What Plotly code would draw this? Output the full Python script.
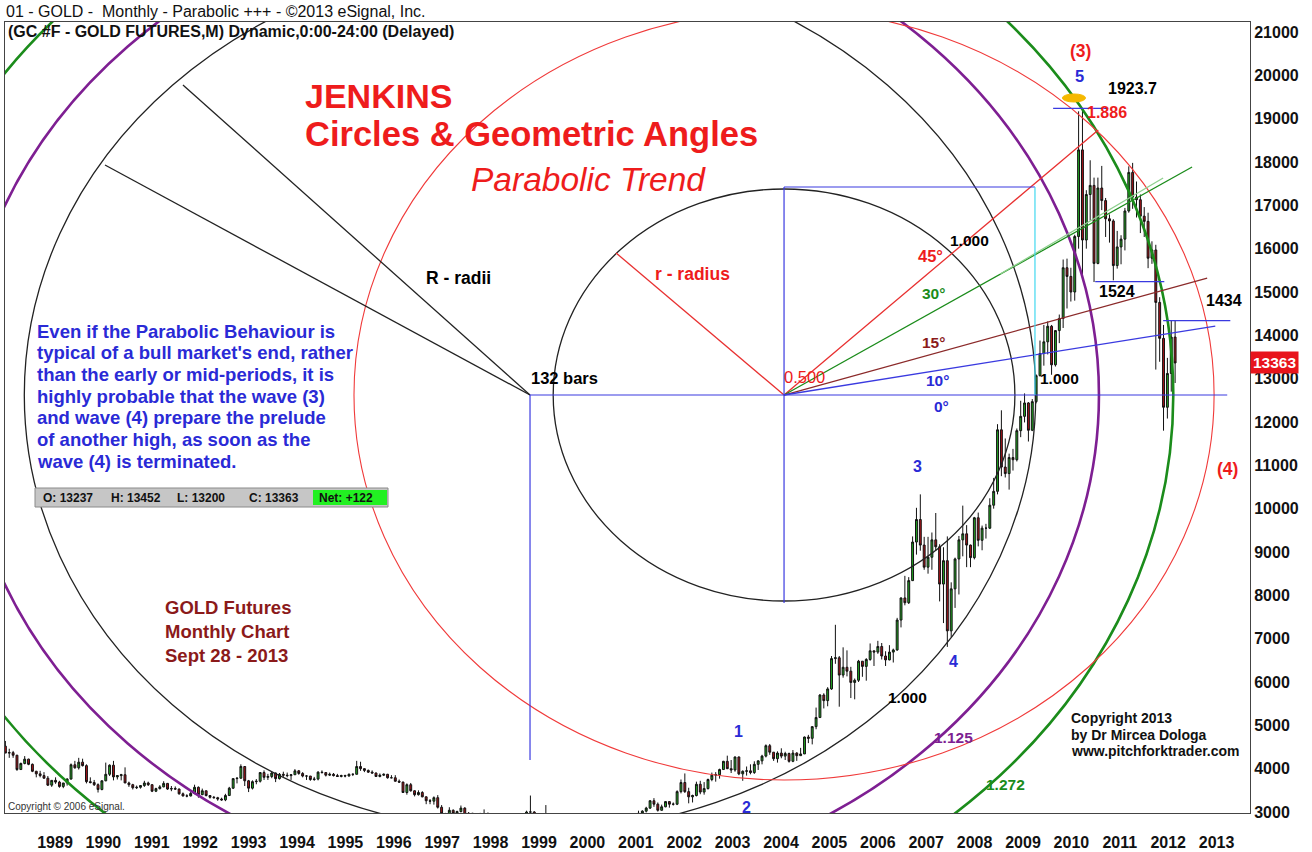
import numpy as np
import plotly.graph_objects as go

# ---------------------------------------------------------------- data
# Monthly gold futures bars, June 1988 .. September 2013
# (USD per ounce; the eSignal chart quotes them in tenths of a dollar).
FIRST_BAR = 5  # month index of the first bar, counting months from January 1988

OPEN = [
    452, 436, 437, 431, 398, 412, 422,                                  # 1988 Jun-Dec
    410, 394, 388, 384, 378, 362, 373, 369, 359, 367, 376, 409,         # 1989
    402, 415, 407, 370, 368, 363, 352, 372, 387, 408, 381, 384,         # 1990
    386, 367, 363, 356, 357, 361, 367, 363, 348, 354, 358, 366,         # 1991
    353, 354, 353, 342, 337, 337, 343, 357, 340, 349, 338, 334,         # 1992
    333, 330, 328, 338, 355, 377, 378, 405, 372, 355, 370, 371,         # 1993
    391, 380, 382, 390, 377, 387, 385, 384, 386, 395, 389, 383,         # 1994
    383, 375, 376, 392, 391, 385, 387, 384, 382, 384, 383, 387,         # 1995
    387, 405, 400, 396, 392, 390, 382, 385, 387, 379, 379, 371,         # 1996
    369, 345, 363, 349, 340, 345, 335, 326, 325, 333, 311, 296,         # 1997
    290, 304, 297, 301, 309, 293, 297, 289, 273, 294, 292, 294,         # 1998
    289, 286, 288, 280, 286, 268, 262, 256, 255, 300, 300, 293,         # 1999
    288, 283, 294, 279, 275, 273, 289, 277, 277, 273, 265, 270,         # 2000
    273, 266, 267, 258, 264, 267, 271, 266, 274, 293, 279, 275,         # 2001
    279, 282, 297, 302, 309, 326, 318, 304, 312, 324, 318, 318,         # 2002
    347, 368, 347, 335, 338, 364, 346, 354, 375, 385, 386, 398,         # 2003
    417, 400, 397, 427, 388, 394, 395, 391, 410, 418, 429, 453,         # 2004
    438, 423, 436, 429, 435, 417, 436, 430, 434, 473, 470, 497,         # 2005
    518, 570, 557, 584, 654, 656, 616, 634, 625, 599, 604, 648,         # 2006
    636, 652, 672, 669, 682, 660, 651, 669, 674, 743, 794, 783,         # 2007
    834, 923, 975, 916, 865, 888, 928, 912, 826, 880, 718, 815,         # 2008
    884, 928, 942, 916, 887, 979, 927, 955, 955, 1008, 1040, 1182,      # 2009
    1096, 1081, 1118, 1113, 1180, 1213, 1244, 1181, 1247, 1307, 1358, 1385,  # 2010
    1421, 1332, 1411, 1439, 1556, 1536, 1500, 1628, 1828, 1620, 1725, 1746,  # 2011
    1566, 1740, 1711, 1669, 1664, 1561, 1604, 1622, 1687, 1776, 1719, 1713,  # 2012
    1675, 1663, 1578, 1597, 1476, 1393, 1234, 1312, 1396,                    # 2013 Jan-Sep
]
HIGH = [
    464, 446, 441, 432, 414, 429, 423,
    412, 395, 395, 392, 383, 373, 380, 372, 367, 378, 412, 418,
    425, 423, 410, 380, 374, 366, 373, 414, 410, 418, 385, 388,
    403, 370, 365, 361, 362, 372, 370, 364, 356, 362, 371, 367,
    360, 359, 354, 345, 341, 346, 363, 359, 354, 349, 339, 337,
    335, 333, 342, 358, 378, 380, 410, 406, 374, 373, 376, 392,
    396, 388, 393, 391, 390, 393, 391, 387, 399, 397, 392, 385,
    383, 381, 394, 396, 392, 391, 390, 388, 386, 386, 389, 389,
    418, 416, 401, 398, 396, 391, 389, 389, 388, 385, 385, 375,
    370, 366, 367, 350, 350, 348, 336, 330, 336, 339, 316, 298,
    311, 306, 303, 315, 311, 300, 298, 292, 298, 306, 299, 297,
    293, 291, 289, 294, 290, 268, 264, 259, 303, 338, 302, 293,
    293, 316, 296, 290, 280, 294, 290, 280, 278, 274, 270, 275,
    274, 269, 269, 265, 294, 275, 271, 279, 294, 294, 280, 281,
    284, 303, 304, 312, 327, 332, 322, 317, 325, 325, 322, 350,
    375, 389, 356, 340, 370, 372, 369, 377, 391, 392, 400, 418,
    430, 420, 428, 428, 396, 405, 410, 417, 419, 432, 456, 457,
    438, 440, 447, 439, 437, 443, 438, 448, 474, 478, 498, 541,
    572, 574, 588, 660, 732, 660, 680, 673, 635, 608, 651, 648,
    655, 689, 672, 695, 690, 671, 685, 677, 748, 795, 845, 842,
    936, 1002, 1033, 935, 935, 945, 990, 918, 911, 936, 830, 887,
    937, 1007, 962, 917, 981, 991, 961, 965, 1024, 1071, 1195, 1227,
    1162, 1127, 1138, 1185, 1249, 1266, 1246, 1253, 1310, 1388, 1424, 1432,
    1424, 1412, 1448, 1575, 1577, 1556, 1632, 1917, 1923.7, 1735, 1804, 1764,
    1764, 1791, 1717, 1679, 1668, 1641, 1631, 1694, 1790, 1798, 1755, 1725,
    1696, 1683, 1617, 1609, 1488, 1424, 1348, 1434, 1434,
]
LOW = [
    436, 425, 425, 395, 398, 410, 408,
    392, 380, 380, 377, 360, 358, 365, 356, 355, 361, 375, 400,
    398, 405, 366, 366, 360, 345, 350, 371, 383, 373, 375, 373,
    367, 358, 352, 353, 354, 358, 360, 346, 346, 352, 357, 351,
    348, 351, 340, 336, 334, 336, 341, 333, 339, 336, 331, 331,
    326, 326, 325, 338, 353, 366, 377, 360, 346, 352, 364, 368,
    374, 374, 378, 369, 375, 381, 380, 374, 386, 386, 380, 374,
    372, 372, 373, 389, 382, 383, 382, 381, 380, 380, 382, 383,
    387, 395, 392, 390, 389, 381, 380, 383, 377, 378, 370, 367,
    344, 340, 347, 336, 338, 334, 318, 318, 317, 308, 290, 283,
    277, 291, 292, 299, 290, 287, 287, 271, 272, 290, 290, 284,
    283, 282, 278, 279, 267, 257, 252, 252, 253, 290, 287, 278,
    281, 282, 276, 273, 268, 272, 275, 270, 268, 264, 263, 267,
    263, 255, 257, 254, 263, 265, 263, 265, 271, 276, 271, 272,
    276, 281, 289, 299, 307, 312, 301, 303, 311, 310, 315, 316,
    343, 344, 320, 322, 336, 341, 340, 352, 371, 370, 377, 398,
    399, 390, 393, 385, 372, 384, 387, 388, 397, 410, 426, 432,
    418, 414, 424, 420, 414, 415, 418, 430, 434, 459, 456, 491,
    518, 539, 544, 582, 642, 543, 610, 613, 563, 560, 600, 612,
    603, 649, 637, 665, 652, 637, 650, 645, 672, 726, 777, 780,
    833, 894, 903, 859, 850, 859, 903, 786, 736, 681, 704, 771,
    802, 890, 865, 865, 883, 913, 904, 931, 953, 1000, 1033, 1075,
    1072, 1044, 1088, 1109, 1165, 1199, 1155, 1179, 1243, 1305, 1330, 1356,
    1309, 1328, 1382, 1417, 1462, 1478, 1480, 1600, 1532, 1600, 1665, 1523,
    1564, 1689, 1627, 1614, 1527, 1554, 1564, 1596, 1683, 1692, 1672, 1636,
    1627, 1555, 1565, 1321, 1339, 1180, 1208, 1270, 1290,
]
CLOSE = [
    436, 437, 431, 398, 412, 422, 410,
    394, 388, 384, 378, 362, 373, 369, 359, 367, 376, 409, 402,
    415, 407, 370, 368, 363, 352, 372, 387, 408, 381, 384, 386,
    367, 363, 356, 357, 361, 367, 363, 348, 354, 358, 366, 353,
    354, 353, 342, 337, 337, 343, 357, 340, 349, 338, 334, 333,
    330, 328, 338, 355, 377, 378, 405, 372, 355, 370, 371, 391,
    380, 382, 390, 377, 387, 385, 384, 386, 395, 389, 383, 383,
    375, 376, 392, 391, 385, 387, 384, 382, 384, 383, 387, 387,
    405, 400, 396, 392, 390, 382, 385, 387, 379, 379, 371, 369,
    345, 363, 349, 340, 345, 335, 326, 325, 333, 311, 296, 290,
    304, 297, 301, 309, 293, 297, 289, 273, 294, 292, 294, 289,
    286, 288, 280, 286, 268, 262, 256, 255, 300, 300, 293, 288,
    283, 294, 279, 275, 273, 289, 277, 277, 273, 265, 270, 273,
    266, 267, 258, 264, 267, 271, 266, 274, 293, 279, 275, 279,
    282, 297, 302, 309, 326, 318, 304, 312, 324, 318, 318, 347,
    368, 347, 335, 338, 364, 346, 354, 375, 385, 386, 398, 417,
    400, 397, 427, 388, 394, 395, 391, 410, 418, 429, 453, 438,
    423, 436, 429, 435, 417, 436, 430, 434, 473, 470, 497, 518,
    570, 557, 584, 654, 656, 616, 634, 625, 599, 604, 648, 636,
    652, 672, 669, 682, 660, 651, 669, 674, 743, 794, 783, 834,
    923, 975, 916, 865, 888, 928, 912, 826, 880, 718, 815, 884,
    928, 942, 916, 887, 979, 927, 955, 955, 1008, 1040, 1182, 1096,
    1081, 1118, 1113, 1180, 1213, 1244, 1181, 1247, 1307, 1358, 1385, 1421,
    1332, 1411, 1439, 1556, 1536, 1500, 1628, 1828, 1620, 1725, 1746, 1566,
    1740, 1711, 1669, 1664, 1561, 1604, 1622, 1687, 1776, 1719, 1713, 1675,
    1663, 1578, 1597, 1476, 1393, 1234, 1312, 1396, 1336.3,
]

YEAR_LABELS = list(range(1989, 2014))
PRICE_TICKS = list(range(3000, 21001, 1000))
QUOTE_LABELS = ["O: 13237", "H: 13452", "L: 13200", "C: 13363"]
NET_LABEL = "Net: +122"
LAST_PRICE = 13363
NOTE_LINES = [
    "Even if the Parabolic Behaviour is",
    "typical of a bull market's end, rather",
    "than the early or mid-periods, it is",
    "highly probable that the wave (3)",
    "and wave (4) prepare the prelude",
    "of another high, as soon as the",
    "wave (4) is terminated.",
]

# ---------------------------------------------------------------- geometry (data units: months, price)
X_RANGE = [4.9, 327.4]
Y_RANGE = [2977, 21231]
YEAR_RANGE = [1987.967, 2013.69]

R_CENTER = (140.9, 12623)      # origin of the 132-bar radius
R_RADIUS = (131.0, 10110)      # horizontal (bars), vertical (price)
r_CENTER = (206.7, 12623)      # 0.500 point
r_RADIUS = (59.8, 4754)
RED_RADIUS = (111.4, 8885)

FONT = "Liberation Sans, Arial, sans-serif"
BLUE = "#2a2ad6"
RED = "#ee1c1c"
GREEN = "#1b8c1b"
PURPLE = "#7e1f92"
BROWN = "#8b1a1a"

# ---------------------------------------------------------------- figure
months = FIRST_BAR + np.arange(len(CLOSE))
o = np.array(OPEN) * 10
h = np.array(HIGH) * 10
l = np.array(LOW) * 10
c = np.array(CLOSE) * 10

fig = go.Figure()
fig.add_trace(go.Candlestick(
    x=months, open=o, high=h, low=l, close=c,
    increasing=dict(fillcolor="#22a822", line=dict(color="#111111", width=1)),
    decreasing=dict(fillcolor="#a8141a", line=dict(color="#111111", width=1)),
    whiskerwidth=0, showlegend=False, hoverinfo="skip",
))
fig.add_trace(go.Scatter(x=YEAR_LABELS, y=[Y_RANGE[0]] * len(YEAR_LABELS), xaxis="x2",
                         mode="markers", marker=dict(opacity=0), showlegend=False,
                         hoverinfo="skip"))

shapes = []


def ellipse(center, radius, scale, color, width):
    cx, cy = center
    rx, ry = radius[0] * scale, radius[1] * scale
    shapes.append(dict(type="circle", xref="x", yref="y", x0=cx - rx, x1=cx + rx,
                       y0=cy - ry, y1=cy + ry, line=dict(color=color, width=width),
                       layer="above"))


def seg(p0, p1, color, width=1.2):
    shapes.append(dict(type="line", xref="x", yref="y", x0=p0[0], y0=p0[1], x1=p1[0], y1=p1[1],
                       line=dict(color=color, width=width), layer="above"))


ellipse(R_CENTER, R_RADIUS, 1.0, "#222222", 1.3)
ellipse(R_CENTER, R_RADIUS, 1.125, PURPLE, 2.6)
ellipse(R_CENTER, R_RADIUS, 1.272, GREEN, 2.6)
ellipse(r_CENTER, r_RADIUS, 1.0, "#222222", 1.3)
ellipse(r_CENTER, RED_RADIUS, 1.0, "#f03a3a", 1.1)

# radii
seg(R_CENTER, (51.0, 19777), "#222222", 1.3)
seg(R_CENTER, (30.8, 17931), "#222222", 1.3)
seg(r_CENTER, (163.2, 15900), "#e83030", 1.3)
# geometric angles
seg(r_CENTER, (288.1, 18739), "#e83030", 1.3)   # 45
seg(r_CENTER, (312.4, 17885), GREEN, 1.3)       # 30
seg((262.7, 15415), (304.9, 17631), "#8fd08f", 1.3)
seg(r_CENTER, (316.3, 15323), "#8b2a2a", 1.3)   # 15
seg(r_CENTER, (318.4, 14215), "#3a3ae0", 1.3)   # 10
seg(R_CENTER, (321.5, 12623), "#3a3ae0", 1.2)   # 0
# construction lines
seg(R_CENTER, (140.9, 4200), "#3a3ae0", 1.2)
seg((206.7, 17423), (206.7, 7823), "#3a3ae0", 1.2)
seg((206.7, 17423), (271.7, 17423), "#3a3ae0", 1.2)
seg((271.7, 17423), (271.7, 12623), "#40d8f0", 1.2)
seg((276.4, 19237), (290.7, 19237), "#3a3ae0", 1.2)
seg((287.3, 15240), (305.2, 15240), "#3a3ae0", 1.2)
seg((304.9, 14340), (322.3, 14340), "#3a3ae0", 1.2)
shapes.append(dict(type="circle", xref="x", yref="y", x0=278.8, x1=284.8, y0=19385, y1=19570,
                   fillcolor="#f5b800", line=dict(color="#f5b800", width=1), layer="above"))

# plot-area geometry (pixels) for paper-anchored texts
PL, PR, PT, PB = 5, 1250, 22, 813


def P(px, py):
    return (px - PL) / (PR - PL), (PB - py) / (PB - PT)


# quote bar
x0, y0 = P(35, 507)
x1, y1 = P(388, 488)
shapes.append(dict(type="rect", xref="paper", yref="paper", x0=x0, y0=y0, x1=x1, y1=y1,
                   fillcolor="#c6c6c6", line=dict(color="#8a8a8a", width=1), layer="above"))
x0, y0 = P(313, 505)
x1, y1 = P(387, 490)
shapes.append(dict(type="rect", xref="paper", yref="paper", x0=x0, y0=y0, x1=x1, y1=y1,
                   fillcolor="#22f022", line=dict(width=0), layer="above"))

annotations = []


def label(text, px, py, size=15, color="black", bold=True, italic=False, anchor="left"):
    t = text
    if bold:
        t = f"<b>{t}</b>"
    if italic:
        t = f"<i>{t}</i>"
    x, y = P(px, py)
    annotations.append(dict(text=t, x=x, y=y, xref="paper", yref="paper", xanchor=anchor,
                            yanchor="middle", showarrow=False, align="left",
                            font=dict(size=size, color=color, family=FONT)))


label("01 - GOLD -  Monthly - Parabolic +++ - ©2013 eSignal, Inc.", 4, 12, 16, "#111", bold=False)
label("(GC #F - GOLD FUTURES,M) Dynamic,0:00-24:00 (Delayed)", 6, 31, 16, "#111")
label("JENKINS", 303, 96, 34, RED)
label("Circles &amp; Geometric Angles", 303, 134, 34.5, RED)
label("Parabolic Trend", 469, 180, 33.5, RED, bold=False, italic=True)
label("R - radii", 424, 278, 17.5)
label("r - radius", 653, 274, 17.5, RED)
label("132 bars", 529, 378, 16.5)
label("0.500", 782, 377, 16.5, RED, bold=False)
label("1.000", 948, 240, 15.5)
label("45°", 916, 256, 16.5, RED)
label("30°", 920, 293, 15.5, GREEN)
label("15°", 920, 342, 15.5, BROWN)
label("10°", 924, 380, 15.5, BLUE)
label("0°", 932, 406, 15.5, BLUE)
label("1.000", 1038, 378, 15.5)
label("(3)", 1080, 51, 17.5, RED, anchor="center")
label("5", 1079, 76, 16.5, BLUE, anchor="center")
label("1923.7", 1106, 89, 16)
label("1.886", 1085, 113, 16, RED)
label("1524", 1097, 291, 16)
label("1434", 1204, 300, 16)
label("(4)", 1215, 469, 17.5, RED)
label("3", 918, 466, 16, BLUE, anchor="center")
label("4", 953, 661, 16, BLUE, anchor="center")
label("1.000", 886, 697, 15.5)
label("1", 738, 731, 16, BLUE, anchor="center")
label("2", 746, 807, 16, BLUE, anchor="center")
label("1.125", 932, 737, 15.5, PURPLE)
label("1.272", 984, 784, 15.5, GREEN)
for i, line in enumerate(["Copyright 2013", "by Dr Mircea Dologa", "www.pitchforktrader.com"]):
    label(line, 1069, 718 + 16.5 * i, 14, "#111")
label("Copyright © 2006 eSignal.", 6, 806, 10, "#333", bold=False)
for i, line in enumerate(NOTE_LINES):
    label(line, 35, 331 + 21.7 * i, 18.5, BLUE)
for i, line in enumerate(["GOLD Futures", "Monthly Chart", "Sept 28 - 2013"]):
    label(line, 163, 607 + 24 * i, 18.5, BROWN)
for txt, px in zip(QUOTE_LABELS, [41, 109, 175, 247]):
    label(txt, px, 498, 12, "#111")
label(NET_LABEL, 317, 498, 12, "#111")

annotations.append(dict(text=f"<b>{LAST_PRICE}</b>", x=1.0, y=LAST_PRICE, xref="paper", yref="y",
                        xanchor="left", yanchor="middle", showarrow=False, bgcolor="#e8141c",
                        borderpad=2, font=dict(size=15.5, color="white", family=FONT)))

fig.update_layout(
    width=1312, height=852,
    margin=dict(l=PL, r=1312 - PR, t=PT, b=852 - PB, autoexpand=False),
    paper_bgcolor="white", plot_bgcolor="white", showlegend=False,
    shapes=shapes, annotations=annotations,
    xaxis=dict(range=X_RANGE, showticklabels=False, showgrid=False, zeroline=False,
               showline=True, mirror=True, linecolor="#444", linewidth=1, ticks="",
               automargin=False, rangeslider=dict(visible=False)),
    xaxis2=dict(overlaying="x", side="bottom", anchor="y", range=YEAR_RANGE,
                tickvals=YEAR_LABELS, ticktext=[str(y) for y in YEAR_LABELS],
                ticks="outside", ticklen=15, tickcolor="rgba(0,0,0,0)", automargin=False,
                showgrid=False, zeroline=False, showline=False,
                tickfont=dict(size=16, color="#111", family=FONT, weight="bold")),
    yaxis=dict(range=Y_RANGE, side="right", tickvals=PRICE_TICKS, automargin=False,
               ticktext=[str(v) for v in PRICE_TICKS], showgrid=False, zeroline=False,
               showline=True, mirror=True, linecolor="#444", linewidth=1, ticks="",
               tickfont=dict(size=16, color="#111", family=FONT, weight="bold")),
)

fig.write_html("out.html", config={"displayModeBar": False},
               post_script="document.body.style.margin='0';document.body.style.overflow='hidden';")
